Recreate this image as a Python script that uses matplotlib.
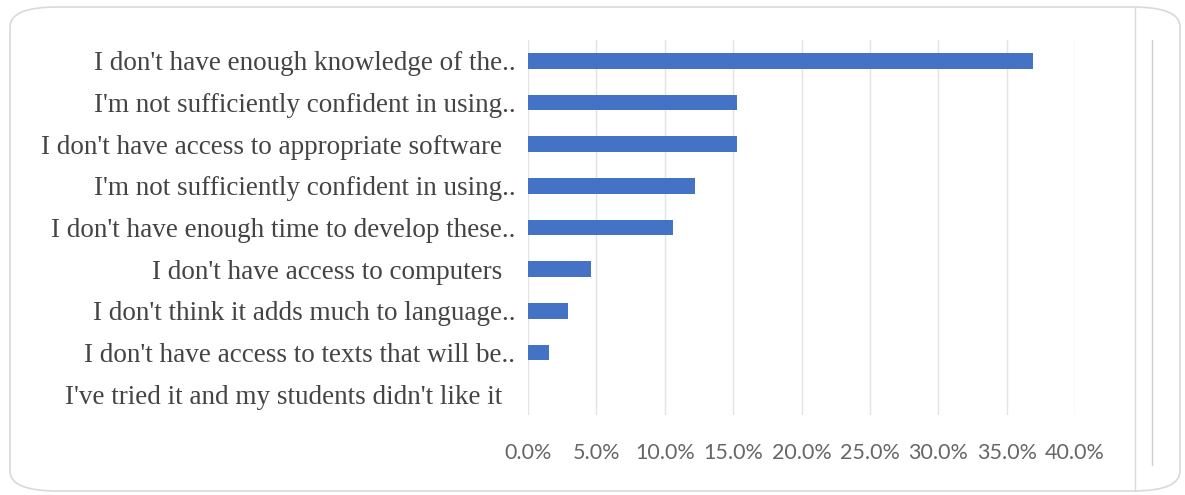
import matplotlib
matplotlib.use("Agg")
import matplotlib.pyplot as plt
from matplotlib.patches import FancyBboxPatch
from matplotlib.lines import Line2D

# answers, top to bottom as shown
labels = [
    "I don't have enough knowledge of the..",
    "I'm not sufficiently confident in using..",
    "I don't have access to appropriate software  ",
    "I'm not sufficiently confident in using..",
    "I don't have enough time to develop these..",
    "I don't have access to computers  ",
    "I don't think it adds much to language..",
    "I don't have access to texts that will be..",
    "I've tried it and my students didn't like it  ",
]
shares = [36.9, 15.3, 15.3, 12.2, 10.6, 4.6, 2.9, 1.5, 0.0]
ticks = [0, 5, 10, 15, 20, 25, 30, 35, 40]

fig = plt.figure(figsize=(11.85, 4.95), dpi=100)

# outer rounded frame and side lines of the screenshot
frame = FancyBboxPatch((10 / 1185, 4 / 495), 1170 / 1185, 484 / 495,
                       boxstyle="round,pad=0,rounding_size=0.04",
                       transform=fig.transFigure, fill=False,
                       edgecolor="#d9d9d9", linewidth=1.2)
fig.patches.append(frame)
fig.lines.append(Line2D([1135 / 1185, 1135 / 1185], [4 / 495, 487 / 495],
                        transform=fig.transFigure, color="#d9d9d9", lw=1.0))
fig.lines.append(Line2D([1152 / 1185, 1152 / 1185], [30 / 495, 455 / 495],
                        transform=fig.transFigure, color="#cfcfcf", lw=1.0))

ax = fig.add_axes([528 / 1185, 80 / 495, 547 / 1185, 375 / 495])
y = list(range(len(labels)))
ax.barh(y, shares, height=0.38, color="#4472c4")
ax.set_ylim(len(labels) - 0.5, -0.5)
ax.set_xlim(0, 40)
ax.set_xticks(ticks)
ax.set_xticklabels([f"{t:.1f}%" for t in ticks], family="Lato",
                   fontsize=15.5, color="#666666")
ax.set_yticks(y)
ax.set_yticklabels(labels, family="Liberation Serif", fontsize=19.5,
                   color="#444444")
ax.tick_params(axis="x", length=0, pad=20)
ax.tick_params(axis="y", length=0, pad=9)
ax.grid(axis="x", color="#e3e3e3", lw=1.0)
ax.set_axisbelow(True)
for s in ax.spines.values():
    s.set_visible(False)

fig.savefig("out.png", dpi=100)
